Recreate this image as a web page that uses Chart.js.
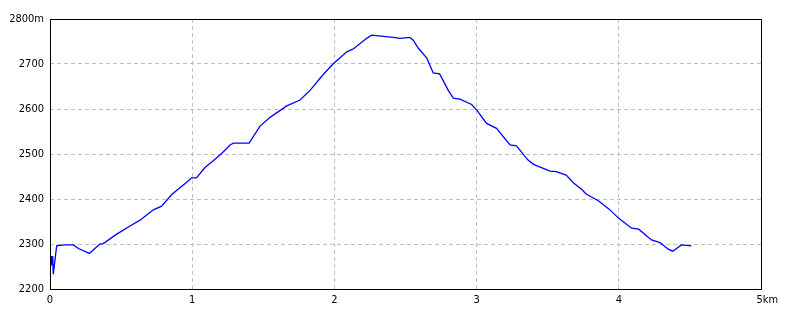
<!DOCTYPE html>
<html>
<head>
<meta charset="utf-8">
<script src="https://cdn.jsdelivr.net/npm/chart.js@4/dist/chart.umd.min.js"></script>
<style>
html,body{margin:0;padding:0;background:#fff;}
#wrap{width:800px;height:320px;position:relative;}
</style>
</head>
<body>
<div id="wrap"><canvas id="c" width="800" height="320"></canvas></div>
<script>
// Distance along route (km)
const distKm = [0.000, 0.005, 0.009, 0.014, 0.019, 0.023, 0.047, 0.10, 0.164, 0.20, 0.277, 0.316, 0.35, 0.375, 0.469, 0.563, 0.633, 0.727, 0.785, 0.856, 0.961, 0.996, 1.03, 1.09, 1.148, 1.207, 1.266, 1.29, 1.40, 1.477, 1.55, 1.665, 1.758, 1.83, 1.92, 1.99, 2.087, 2.13, 2.227, 2.262, 2.33, 2.414, 2.46, 2.53, 2.555, 2.59, 2.65, 2.695, 2.74, 2.80, 2.836, 2.883, 2.965, 3.00, 3.07, 3.14, 3.235, 3.28, 3.36, 3.40, 3.516, 3.56, 3.63, 3.68, 3.74, 3.77, 3.856, 3.93, 4.00, 4.09, 4.14, 4.23, 4.29, 4.35, 4.38, 4.44, 4.51];
// Elevation (m)
const elevM = [2235, 2235, 2273, 2253, 2273, 2233, 2296, 2298, 2298, 2290, 2279, 2290, 2300, 2301, 2322, 2340, 2353, 2376, 2384, 2410, 2437, 2447, 2447, 2470, 2485, 2501, 2520, 2524, 2524, 2562, 2582, 2607, 2620, 2642, 2676, 2700, 2727, 2733, 2757, 2764, 2762, 2759, 2757, 2759, 2753, 2735, 2713, 2680, 2678, 2642, 2624, 2622, 2610, 2598, 2568, 2557, 2520, 2518, 2487, 2477, 2462, 2461, 2453, 2436, 2421, 2411, 2396, 2378, 2357, 2335, 2333, 2309, 2303, 2288, 2284, 2298, 2296];
// Tick values
const xTicks = [0, 1, 2, 3, 4, 5];
const yTicks = [2200, 2300, 2400, 2500, 2600, 2700, 2800];

const points = distKm.map((d, i) => ({x: d, y: elevM[i]}));
const FONT = {family: "'DejaVu Sans Condensed', 'Liberation Sans Narrow', 'Liberation Sans', sans-serif", size: 11};

const frame = {
  id: 'frame',
  afterDraw(chart) {
    const a = chart.chartArea, ctx = chart.ctx;
    ctx.save();
    ctx.strokeStyle = '#000';
    ctx.lineWidth = 1;
    ctx.strokeRect(Math.round(a.left) + 0.5, Math.round(a.top) + 0.5, Math.round(a.right - a.left), Math.round(a.bottom - a.top));
    ctx.restore();
  }
};
const bg = {
  id: 'bg',
  beforeDraw(chart) {
    const ctx = chart.ctx;
    ctx.save(); ctx.fillStyle = '#fff'; ctx.fillRect(0, 0, chart.width, chart.height); ctx.restore();
  }
};

const gridColor = (lo, hi) => (c) => (c.tick && (c.tick.value === lo || c.tick.value === hi)) ? 'rgba(0,0,0,0)' : '#c0c0c0';

new Chart(document.getElementById('c'), {
  type: 'line',
  data: {
    datasets: [{
      data: points,
      borderColor: '#0000ff',
      borderWidth: 1.3,
      pointRadius: 0,
      tension: 0,
      fill: false
    }]
  },
  options: {
    responsive: false,
    animation: false,
    devicePixelRatio: 1,
    layout: {padding: {top: 19, right: 39, left: 0, bottom: 0}},
    plugins: {legend: {display: false}, tooltip: {enabled: false}},
    scales: {
      x: {
        type: 'linear',
        min: 0, max: 5,
        afterBuildTicks: (s) => { s.ticks = xTicks.map(v => ({value: v})); },
        afterFit: (s) => { s.height = 31; },
        border: {display: false, dash: [4, 3]},
        grid: {color: gridColor(0, 5), lineWidth: 1, drawTicks: false},
        ticks: {
          color: '#000', font: FONT, padding: 5, maxRotation: 0,
          callback: (v) => v === 5 ? '    5km' : String(v)
        }
      },
      y: {
        type: 'linear',
        min: 2200, max: 2800,
        afterBuildTicks: (s) => { s.ticks = yTicks.map(v => ({value: v})); },
        afterFit: (s) => { s.width = 50; },
        border: {display: false, dash: [4, 3]},
        grid: {color: gridColor(2200, 2800), lineWidth: 1, drawTicks: false},
        ticks: {
          color: '#000', font: FONT, padding: 6,
          callback: (v) => v === 2800 ? '2800m' : String(v)
        }
      }
    }
  },
  plugins: [bg, frame]
});
</script>
</body>
</html>
